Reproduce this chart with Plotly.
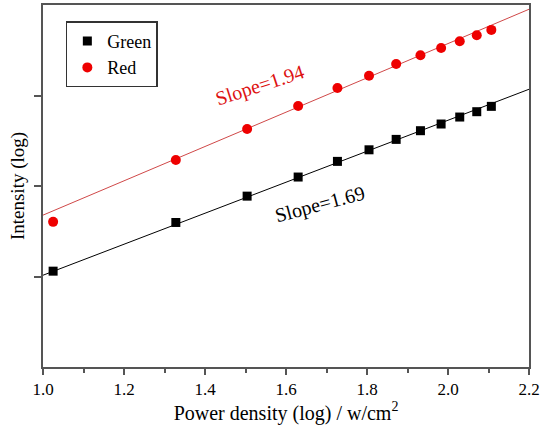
import plotly.graph_objects as go

power_log = [1.025, 1.328, 1.504, 1.630, 1.727, 1.805, 1.872, 1.932, 1.983, 2.029, 2.071, 2.107]
green_int = [1.059, 1.597, 1.888, 2.099, 2.272, 2.400, 2.515, 2.611, 2.685, 2.762, 2.821, 2.880]
red_int = [1.604, 2.287, 2.629, 2.884, 3.083, 3.219, 3.348, 3.445, 3.525, 3.600, 3.666, 3.725]

fit_x = [1.0, 2.2]
green_fit = [1.014, 3.069]
red_fit = [1.678, 3.953]

x_ticks = [1.0, 1.2, 1.4, 1.6, 1.8, 2.0, 2.2]
x_tick_labels = ["1.0", "1.2", "1.4", "1.6", "1.8", "2.0", "2.2"]

FONT = "Liberation Serif"
AX = "#555555"

fig = go.Figure()
fig.add_trace(go.Scatter(x=fit_x, y=green_fit, mode="lines",
                         line=dict(color="black", width=1), showlegend=False, hoverinfo="skip"))
fig.add_trace(go.Scatter(x=fit_x, y=red_fit, mode="lines",
                         line=dict(color="#d04848", width=1), showlegend=False, hoverinfo="skip"))
fig.add_trace(go.Scatter(x=power_log, y=green_int, mode="markers", name="Green",
                         marker=dict(symbol="square", size=9, color="black")))
fig.add_trace(go.Scatter(x=power_log, y=red_int, mode="markers", name="Red",
                         marker=dict(symbol="circle", size=10, color="#ee0000")))

fig.add_annotation(x=1.535, y=3.11, text="Slope=1.94", showarrow=False, textangle=-18,
                   font=dict(family=FONT, size=20, color="#dd1111"))
fig.add_annotation(x=1.683, y=1.80, text="Slope=1.69", showarrow=False, textangle=-15,
                   font=dict(family=FONT, size=20, color="black"))

fig.update_layout(
    width=542, height=431,
    margin=dict(l=43, r=13, t=5, b=64),
    paper_bgcolor="white", plot_bgcolor="white",
    font=dict(family=FONT, size=17, color="black"),
    legend=dict(x=0.047, y=0.955, xanchor="left", yanchor="top",
                bordercolor="#333333", borderwidth=1.5, bgcolor="white",
                font=dict(family=FONT, size=18), itemwidth=30,
                tracegroupgap=0),
    xaxis=dict(range=[1.0, 2.2], tickvals=x_ticks, ticktext=x_tick_labels,
               ticks="outside", ticklen=6, tickcolor=AX, tickwidth=1.5,
               minor=dict(dtick=0.1, ticks="outside", ticklen=4, tickcolor=AX, tickwidth=1.5),
               showline=True, linecolor=AX, linewidth=1.5, mirror=True,
               showgrid=False, zeroline=False, automargin=False,
               title=dict(text="Power density (log) / w/cm<sup>2</sup>", font=dict(size=20), standoff=1),
               tickfont=dict(size=17)),
    yaxis=dict(range=[0, 4], tickvals=[1, 2, 3], showticklabels=False,
               ticks="outside", ticklen=7, tickcolor=AX, tickwidth=1.5,
               showline=True, linecolor=AX, linewidth=1.5, mirror=True,
               showgrid=False, zeroline=False, automargin=False,
               title=dict(text="Intensity (log)", font=dict(size=19), standoff=5)),
)

fig.write_html("out.html", config={"displayModeBar": False},
               post_script="document.body.style.margin='0px';")
